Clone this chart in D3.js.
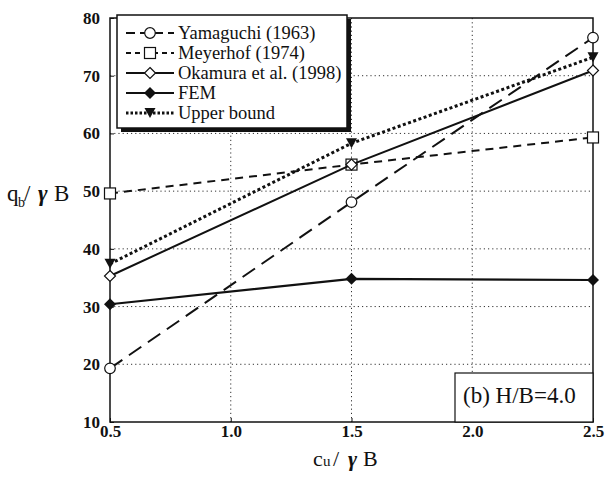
<!DOCTYPE html>
<html>
<head>
<meta charset="utf-8">
<script src="https://cdn.jsdelivr.net/npm/d3@7"></script>
<style>
  html, body { margin: 0; padding: 0; background: #fff; }
  svg { display: block; }
  text, tspan { font-family: "Liberation Serif", "Times New Roman", serif; fill: #111; }
</style>
</head>
<body>
<svg id="chart" width="606" height="482"></svg>
<script>
// Bearing capacity q_b/γB versus c_u/γB for H/B = 4.0
const xValues = [0.5, 1.5, 2.5];
const yamaguchi = [19.3, 48.1, 76.6];
const meyerhof = [49.6, 54.6, 59.3];
const okamura = [35.3, 54.6, 70.9];
const fem = [30.4, 34.8, 34.6];
const upperBound = [37.4, 58.3, 73.2];

const seriesNames = ["Yamaguchi (1963)", "Meyerhof (1974)", "Okamura et al. (1998)", "FEM", "Upper bound"];
const xTicks = [0.5, 1.0, 1.5, 2.0, 2.5];
const yTicks = [10, 20, 30, 40, 50, 60, 70, 80];
const panelLabel = "(b) H/B=4.0";

const serif = "'Liberation Serif', 'Times New Roman', serif";
const svg = d3.select("#chart");
const plot = { left: 110, right: 593, top: 18, bottom: 422 };

const x = d3.scaleLinear().domain([0.5, 2.5]).range([plot.left, plot.right]);
const y = d3.scaleLinear().domain([10, 80]).range([plot.bottom, plot.top]);

// dotted grid
const grid = svg.append("g");
grid.selectAll("line.gx").data(xTicks.slice(1, -1)).join("line")
  .attr("x1", d => x(d)).attr("x2", d => x(d))
  .attr("y1", plot.top).attr("y2", plot.bottom)
  .attr("stroke", "#333").attr("stroke-width", 1).attr("stroke-dasharray", "1.2,3");
grid.selectAll("line.gy").data(yTicks.slice(1, -1)).join("line")
  .attr("x1", plot.left).attr("x2", plot.right)
  .attr("y1", d => y(d)).attr("y2", d => y(d))
  .attr("stroke", "#333").attr("stroke-width", 1).attr("stroke-dasharray", "1.2,3");

// axes (labels and short inner ticks; frame drawn separately)
const yAxis = svg.append("g")
  .attr("transform", `translate(${plot.left},0)`)
  .call(d3.axisLeft(y).tickValues(yTicks).tickFormat(d3.format("d")).tickSize(-4).tickPadding(10));
yAxis.select(".domain").remove();
yAxis.selectAll("line").attr("stroke", "#111");
yAxis.selectAll("text").style("font-size", "17px").style("font-weight", "bold")
  .style("font-family", serif).attr("fill", "#111");

const xAxis = svg.append("g")
  .attr("transform", `translate(0,${plot.bottom})`)
  .call(d3.axisBottom(x).tickValues(xTicks).tickFormat(d3.format(".1f")).tickSize(-4).tickPadding(3));
xAxis.select(".domain").remove();
xAxis.selectAll("line").attr("stroke", "#111");
xAxis.selectAll("text").style("font-size", "17px").style("font-weight", "bold")
  .style("font-family", serif).attr("fill", "#111");

// plot frame
svg.append("rect")
  .attr("x", plot.left).attr("y", plot.top)
  .attr("width", plot.right - plot.left).attr("height", plot.bottom - plot.top)
  .attr("fill", "none").attr("stroke", "#111").attr("stroke-width", 1.5);

// series styles
const styles = [
  { data: yamaguchi, dash: "15,8", width: 2, marker: "circle", legendDash: "9,5" },
  { data: meyerhof, dash: "8,6", width: 2, marker: "square", legendDash: "5,4" },
  { data: okamura, dash: null, width: 2, marker: "diamondOpen", legendDash: null },
  { data: fem, dash: null, width: 2.2, marker: "diamondFilled", legendDash: null },
  { data: upperBound, dash: "3,2.5", width: 3, marker: "triangleDown", legendDash: "2.5,2" }
];

function drawMarker(g, kind, cx, cy) {
  if (kind === "circle") {
    g.append("circle").attr("cx", cx).attr("cy", cy).attr("r", 5.3)
      .attr("fill", "#fff").attr("stroke", "#111").attr("stroke-width", 1.2);
  } else if (kind === "square") {
    g.append("rect").attr("x", cx - 5.5).attr("y", cy - 5.5).attr("width", 11).attr("height", 11)
      .attr("fill", "#fff").attr("stroke", "#111").attr("stroke-width", 1.2);
  } else if (kind === "diamondOpen") {
    g.append("path").attr("d", `M${cx},${cy - 5.5}L${cx + 5.5},${cy}L${cx},${cy + 5.5}L${cx - 5.5},${cy}Z`)
      .attr("fill", "#fff").attr("stroke", "#111").attr("stroke-width", 1.2);
  } else if (kind === "diamondFilled") {
    g.append("path").attr("d", `M${cx},${cy - 6}L${cx + 6},${cy}L${cx},${cy + 6}L${cx - 6},${cy}Z`)
      .attr("fill", "#111");
  } else if (kind === "triangleDown") {
    g.append("path").attr("d", `M${cx - 5.5},${cy - 5}L${cx + 5.5},${cy - 5}L${cx},${cy + 5}Z`)
      .attr("fill", "#111");
  }
}

const line = d3.line().x((d, i) => x(xValues[i])).y(d => y(d));

styles.forEach(s => {
  const g = svg.append("g");
  g.append("path").datum(s.data).attr("d", line)
    .attr("fill", "none").attr("stroke", "#111").attr("stroke-width", s.width)
    .attr("stroke-dasharray", s.dash);
  s.data.forEach((v, i) => drawMarker(g, s.marker, x(xValues[i]), y(v)));
});

// legend with drop shadow
const lg = svg.append("g");
const lgBox = { x: 117, y: 15, w: 230, h: 113 };
lg.append("rect").attr("x", lgBox.x + 4).attr("y", lgBox.y + 4).attr("width", lgBox.w).attr("height", lgBox.h)
  .attr("fill", "#111");
lg.append("rect").attr("x", lgBox.x).attr("y", lgBox.y).attr("width", lgBox.w).attr("height", lgBox.h)
  .attr("fill", "#fff").attr("stroke", "#111").attr("stroke-width", 1.5);
seriesNames.forEach((name, i) => {
  const ly = 33 + i * 20;
  const s = styles[i];
  lg.append("line").attr("x1", 126).attr("x2", 174).attr("y1", ly).attr("y2", ly)
    .attr("stroke", "#111").attr("stroke-width", s.width)
    .attr("stroke-dasharray", s.legendDash);
  drawMarker(lg, s.marker, 150, ly);
  lg.append("text").attr("x", 178).attr("y", ly + 6)
    .style("font-family", serif).style("font-size", "18.5px").text(name);
});

// panel label box
const pl = svg.append("g");
pl.append("rect").attr("x", 455).attr("y", 373).attr("width", plot.right - 455).attr("height", plot.bottom - 373)
  .attr("fill", "#fff").attr("stroke", "#111").attr("stroke-width", 1.2);
pl.append("text").attr("x", 463).attr("y", 403)
  .style("font-family", serif).style("font-size", "23px").text(panelLabel);

// axis titles
const yt = svg.append("text").attr("y", 201).style("font-family", serif).style("font-size", "23px");
yt.append("tspan").attr("x", 7).text("q");
yt.append("tspan").attr("x", 18).attr("dy", 6).style("font-size", "14px").text("b");
yt.append("tspan").attr("x", 24).attr("dy", -6).text("/");
yt.append("tspan").attr("x", 38).style("font-style", "italic").style("font-weight", "bold").text("γ");
yt.append("tspan").attr("x", 54).text("B");

const xt = svg.append("text").attr("y", 466).style("font-family", serif).style("font-size", "22px");
xt.append("tspan").attr("x", 313).text("c");
xt.append("tspan").attr("x", 323).style("font-size", "15px").text("u");
xt.append("tspan").attr("x", 333).text("/");
xt.append("tspan").attr("x", 348).style("font-style", "italic").style("font-weight", "bold").text("γ");
xt.append("tspan").attr("x", 363).text("B");
</script>
</body>
</html>
